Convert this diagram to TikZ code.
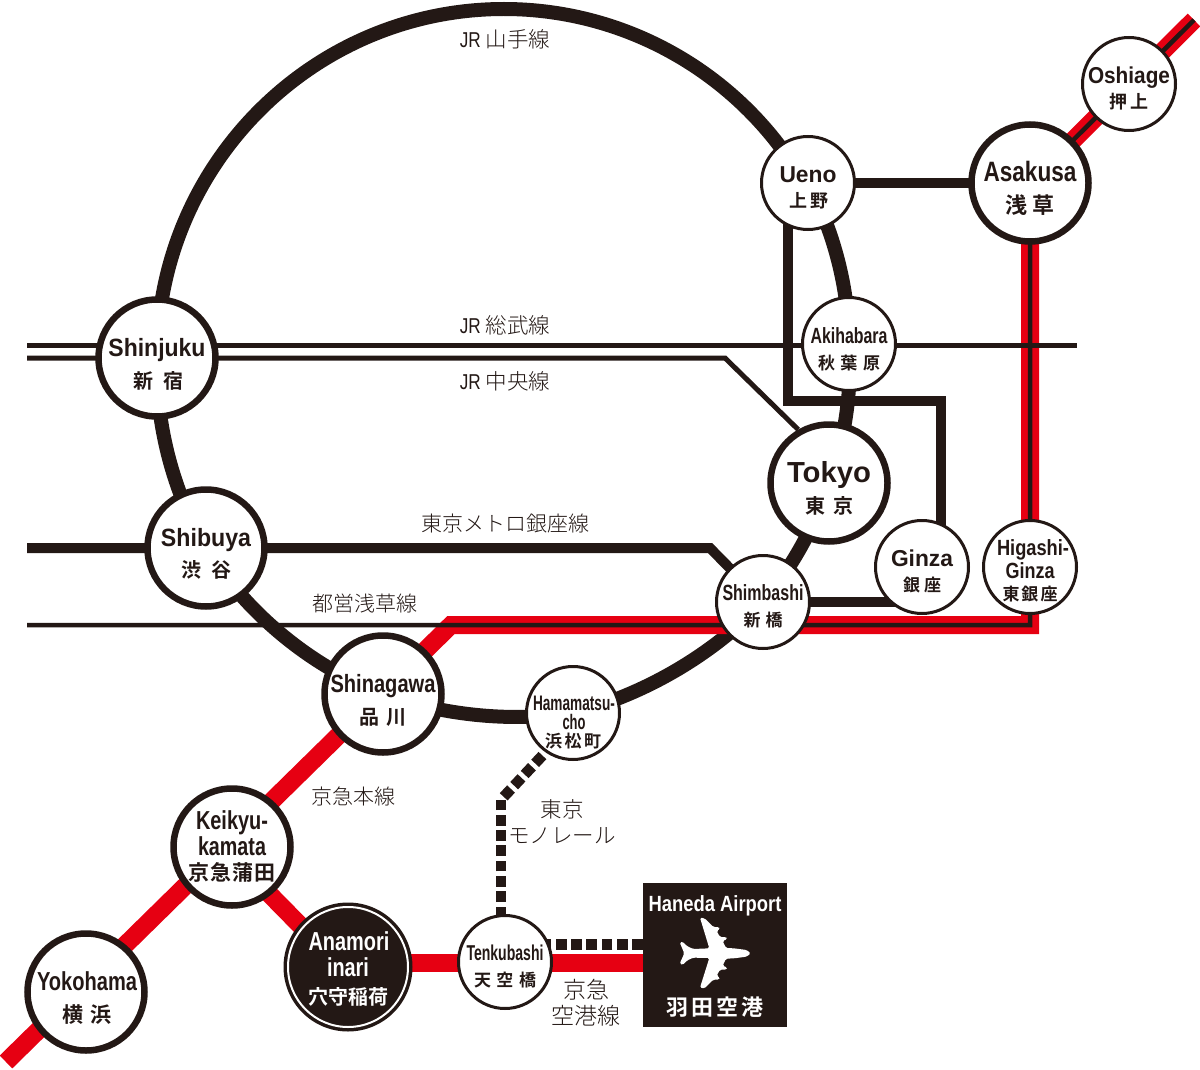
\documentclass[tikz,border=0pt]{standalone}
\usepackage{fontspec}
\usepackage{graphicx}
\setmainfont{Liberation Sans}
\newfontfamily\jpb{Noto Sans CJK JP Bold}
\newfontfamily\jpl{Noto Sans CJK JP Light}
\definecolor{ink}{HTML}{231815}
\definecolor{rail}{HTML}{E60012}
\pgfdeclarelayer{bg}
\pgfsetlayers{bg,main}
\newcommand{\Lat}[7][ink]{\node[inner sep=0,anchor=base,text=#1] (#2) at (#3,{#4+0.36*#6}) {\resizebox{#5pt}{\height}{\fontsize{#6}{#6}\selectfont\bfseries #7}};}
\newcommand{\Kan}[7][ink]{\node[inner sep=0,anchor=base,text=#1] (#2) at (#3,{#4+0.36*#6}) {\makebox[#5pt][s]{\fontsize{#6}{#6}\selectfont\jpb #7}};}
\newcommand{\Line}[5]{\node[inner sep=0,anchor=base,text=ink] (#1) at (#2,{#3+8.5}) {\fontsize{21.5}{21.5}\selectfont #4#5};}
\newcommand{\JR}{\resizebox{21pt}{\height}{\fontsize{21.5}{21.5}\selectfont JR}\hspace{5pt}\jpl}
\newcommand{\jpSmall}{\fontsize{21}{21}\selectfont\jpl}
\newcommand{\jpBig}{\fontsize{23}{23}\selectfont\jpl}
\tikzset{
  stnS/.style={circle,draw=ink,fill=white,line width=3pt,minimum size=93pt,inner sep=0},
  stnL/.style={circle,draw=ink,fill=white,line width=6.5pt,minimum size=117pt,inner sep=0},
  ring/.style={draw=ink,line width=14pt},
  heavy/.style={draw=ink,line width=10pt},
  thin/.style={draw=ink,line width=5pt},
  redline/.style={draw=rail,line width=18pt},
  core/.style={draw=ink,line width=4.5pt},
  squares/.style={draw=ink,line width=10.7pt,dash pattern=on 10.7pt off 4.6pt}
}
\begin{document}
\begin{tikzpicture}[x=1pt,y=-1pt]
\useasboundingbox (0,0) rectangle (1200,1070);
% stations
\node[stnL] (shinjuku) at (157,358) {};
\node[stnL] (shibuya) at (206,548) {};
\node[stnL] (shinagawa) at (383,694) {};
\node[stnL] (tokyo) at (829,483) {};
\node[stnL] (asakusa) at (1030,183) {};
\node[stnL] (keikyu) at (232,847) {};
\node[stnL] (yokohama) at (86,992) {};
\node[stnS] (ueno) at (808,183) {};
\node[stnS] (oshiage) at (1129,84) {};
\node[stnS] (akihabara) at (849,344) {};
\node[stnS] (ginza) at (922,567) {};
\node[stnS] (higashi) at (1030,567) {};
\node[stnS] (shimbashi) at (763,602) {};
\node[stnS] (hamamatsu) at (573,713) {};
\node[stnS] (tenku) at (505,962) {};
\node[circle,draw=ink,fill=ink,line width=3pt,minimum size=126pt,inner sep=0] (anamori) at (348,967) {};
\node[circle,draw=white,line width=2pt,minimum size=120pt,inner sep=0] (anamoriRing) at (348,967) {};
\node[rectangle,fill=ink,minimum width=144.5pt,minimum height=144pt,inner sep=0] (airport) at (715,955) {};
% free ends
\coordinate (sobuL) at (27,345);
\coordinate (sobuR) at (1077,345);
\coordinate (chuoL) at (27,358);
\coordinate (chuoK) at (725,358);
\coordinate (metroL) at (27,548);
\coordinate (metroK) at (710,548);
\coordinate (asaL) at (27,625);
\coordinate (asaK) at (1030,625);
\coordinate (redK) at (451,625);
\coordinate (redEnd) at (6,1062);
\coordinate (oshEnd) at (1194,20);
\coordinate (gU) at (788,190);
\coordinate (gA) at (788,401);
\coordinate (gB) at (941,401);
\coordinate (gC) at (941,560);
\coordinate (redAp) at (650,963);
\coordinate (redAn) at (348,963);
\coordinate (monoK) at (503.7,796.8);
\coordinate (monoB) at (501,917.3);
\coordinate (monoT) at (501,800);
\coordinate (dotAp) at (643,944.5);
\coordinate (dotTe) at (540,944.5);
\begin{pgfonlayer}{bg}
  \draw[ring] (shinjuku.center) arc[start angle=-180,end angle=-30,x radius=347,y radius=349];
  \draw[ring] (shinjuku.center) to[bend right=16,looseness=.85] (shibuya.center);
  \draw[ring] (shibuya.center) to[bend right=19,looseness=.85] (shinagawa.center);
  \draw[ring] (shinagawa.center) to[bend right=14,looseness=.85] (hamamatsu.center);
  \draw[ring] (hamamatsu.center) to[bend right=16,looseness=.85] (shimbashi.center);
  \draw[ring] (shimbashi.center) to[bend right=11,looseness=.85] (tokyo.center);
  \draw[ring] (tokyo.center) to[bend right=12,looseness=.85] (akihabara.center);
  \draw[ring] (akihabara.center) to[bend right=14,looseness=.85] (ueno.center);
  \draw[redline] (redEnd) -- (redK) -- (asaK) -- (asakusa.center) -- (oshEnd);
  \draw[redline] ([yshift=-9pt]keikyu.center) -- ([yshift=-7pt]anamori.center);
  \draw[redline] (redAn) -- (redAp);
  \draw[core] (asaL) -- (asaK) -- (asakusa.center) -- (oshEnd);
  \draw[thin] (sobuL) -- (sobuR);
  \draw[thin] (chuoL) -- (chuoK) -- (tokyo.120);
  \draw[heavy] (metroL) -- (metroK) -- (shimbashi.center);
  \draw[heavy] (ueno.center) -- (asakusa.center);
  \draw[heavy] (gU) -- (gA) -- (gB) -- (gC);
  \draw[heavy] (shimbashi.center) -- (shimbashi.center -| ginza.center);
  \draw[squares] (monoB) -- (monoT);
  \draw[squares] (monoK) -- (hamamatsu.235);
  \draw[squares] (dotAp) -- (dotTe);
\end{pgfonlayer}
% plane
\begin{scope}[shift={(640,905)},x=0.3333pt,y=-0.3333pt]
\fill[white,rounded corners=1.5pt] (332,145) -- (320,135) -- (282,130) -- (258,129) -- (248,108) -- (262,102) -- (259,96) -- (240,96) -- (230,78) -- (240,72) -- (237,66) -- (220,66) -- (194,40) -- (180,38) -- (208,130) -- (160,132) -- (142,124) -- (128,110) -- (119,112) -- (133,145) -- (119,176) -- (128,180) -- (142,166) -- (160,158) -- (208,159) -- (180,248) -- (194,250) -- (220,224) -- (237,224) -- (240,218) -- (230,212) -- (240,194) -- (259,194) -- (262,188) -- (248,182) -- (258,161) -- (282,160) -- (320,155) -- cycle;
\end{scope}
% station labels
\Lat{tShinjuku}{157}{347}{97}{25}{Shinjuku}
\Kan{kShinjuku}{158}{381}{50}{20}{新\hfil 宿}
\Lat{tShibuya}{206}{537}{90}{25}{Shibuya}
\Kan{kShibuya}{206}{570}{50}{20}{渋\hfil 谷}
\Lat{tShinagawa}{383}{683}{105}{25}{Shinagawa}
\Kan{kShinagawa}{383}{717}{47}{20}{品\hfil 川}
\Lat{tTokyo}{829}{472}{84}{29}{Tokyo}
\Kan{kTokyo}{829}{506}{48}{20}{東\hfil 京}
\Lat{tAsakusa}{1030}{171}{93}{28}{Asakusa}
\Kan{kAsakusa}{1030}{206}{49}{22}{浅\hfil 草}
\Lat{tUeno}{808}{174}{57}{23}{Ueno}
\Kan{kUeno}{809}{201}{39}{18}{上\hfil 野}
\Lat{tOshiage}{1129}{75}{82}{23}{Oshiage}
\Kan{kOshiage}{1129}{102}{39}{18}{押\hfil 上}
\Lat{tAkihabara}{849}{336}{77}{22}{Akihabara}
\Kan{kAkihabara}{849}{363}{62}{17}{秋\hfil 葉\hfil 原}
\Lat{tGinza}{922}{558}{62}{23}{Ginza}
\Kan{kGinza}{922}{585}{38}{17}{銀\hfil 座}
\Lat{tHigashi}{1033}{548}{72}{22}{Higashi-}
\Lat{tHigashiB}{1030}{571}{49}{22}{Ginza}
\Kan{kHigashi}{1030}{594}{55}{17}{東\hfil 銀\hfil 座}
\Lat{tShimbashi}{763}{593}{81}{22}{Shimbashi}
\Kan{kShimbashi}{763}{620}{39}{17}{新\hfil 橋}
\Lat{tHama}{574}{703}{82}{21}{Hamamatsu-}
\Lat{tHamaB}{574}{722}{23}{21}{cho}
\Kan{kHama}{573}{741}{56}{17}{浜\hfil 松\hfil 町}
\Lat{tTenku}{505}{953}{77}{21.5}{Tenkubashi}
\Kan{kTenku}{505}{980}{62}{17}{天\hfil 空\hfil 橋}
\Lat[white]{tAnamori}{349}{941}{81}{26}{Anamori}
\Lat[white]{tAnamoriB}{348}{967}{42}{26}{inari}
\Kan[white]{kAnamori}{348}{997}{80}{20}{穴守稲荷}
\Lat{tKeikyu}{232}{820}{72}{26}{Keikyu-}
\Lat{tKeikyuB}{232}{846}{68}{26}{kamata}
\Kan{kKeikyu}{232}{873}{88}{21}{京\hfil 急\hfil 蒲\hfil 田}
\Lat{tYoko}{87}{981}{100}{26}{Yokohama}
\Kan{kYoko}{87}{1015}{49}{21}{横\hfil 浜}
\Lat[white]{tHaneda}{715}{904}{133}{22}{Haneda Airport}
\Kan[white]{kHaneda}{715}{1008}{97}{22}{羽\hfil 田\hfil 空\hfil 港}
% line labels
\Line{lYama}{505}{39}{\JR}{山手線}
\Line{lSobu}{505}{325}{\JR}{総武線}
\Line{lChuo}{505}{381}{\JR}{中央線}
\Line{lMetro}{505}{523}{\jpSmall}{東京メトロ銀座線}
\Line{lToei}{365}{603}{\jpSmall}{都営浅草線}
\Line{lKeikyu}{353}{796}{\jpSmall}{京急本線}
\Line{lTokyo}{562}{809}{\jpl}{東京}
\Line{lMono}{562}{835}{\jpl}{モノレール}
\Line{lKuko}{586}{990}{\jpBig}{京急}
\Line{lKukoB}{586}{1016}{\jpBig}{空港線}
\end{tikzpicture}
\end{document}
